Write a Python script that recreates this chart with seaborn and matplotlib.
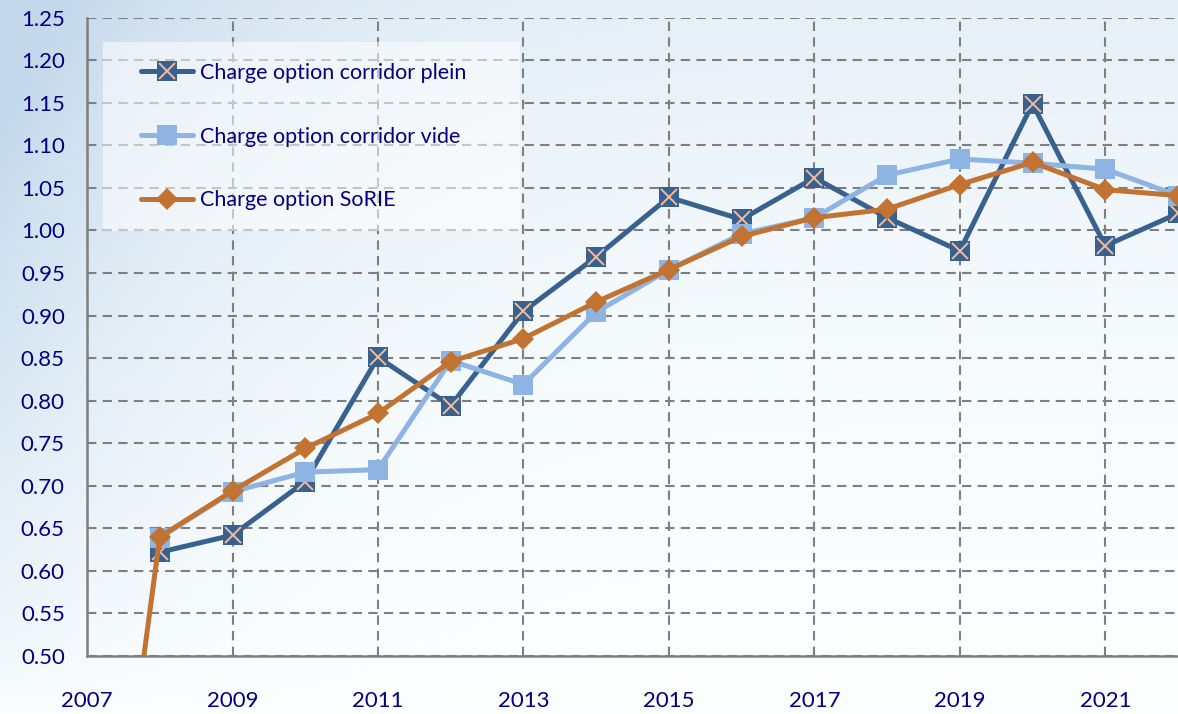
import numpy as np
import pandas as pd
import matplotlib.pyplot as plt
import seaborn as sns
from matplotlib.patches import Rectangle
from matplotlib.lines import Line2D
from matplotlib.legend_handler import HandlerTuple

# valeurs
annees = list(range(2007, 2023))
annees_corridor = list(range(2008, 2023))
corridor_plein = [0.622, 0.642, 0.705, 0.851, 0.794, 0.905, 0.969, 1.039,
                  1.013, 1.062, 1.015, 0.976, 1.149, 0.982, 1.020]
corridor_vide = [0.639, 0.693, 0.716, 0.719, 0.847, 0.819, 0.904, 0.954,
                 0.996, 1.015, 1.065, 1.084, 1.079, 1.072, 1.041]
sorie = [0.0, 0.640, 0.694, 0.744, 0.785, 0.846, 0.873, 0.916, 0.954,
         0.993, 1.015, 1.025, 1.054, 1.080, 1.048, 1.041]
labels = ['Charge option corridor plein', 'Charge option corridor vide',
          'Charge option SoRIE']

df_corr = pd.DataFrame({'annee': annees_corridor, 'plein': corridor_plein,
                        'vide': corridor_vide})
df_sorie = pd.DataFrame({'annee': annees, 'sorie': sorie})

sns.set_style('white')
plt.rcParams['font.family'] = ['Lato', 'DejaVu Sans']

c_plein = '#37618f'
c_vide = '#8db4e2'
c_sorie = '#c27231'
c_croix = '#f7b99a'
c_texte = '#000080'
c_grille = '#7f7f7f'

fig = plt.figure(figsize=(11.78, 7.14), dpi=100)

# fond dégradé bleuté
bg = fig.add_axes([0, 0, 1, 1], zorder=-10)
yy, xx = np.mgrid[0:1:200j, 0:1:300j]
t = 0.20 * (1 - yy) ** 1.8 + 0.40 * (1 - xx) ** 5 * (1 - yy) ** 0.6
t = np.clip(t, 0, 0.5)
bleu = np.array([0.55, 0.70, 0.85])
img = (1 - t[..., None]) * np.array([0.99, 1.0, 1.0]) + t[..., None] * bleu
bg.imshow(img, aspect='auto', extent=[0, 1, 0, 1], origin='upper')
bg.axis('off')

ax = fig.add_axes([0.0739, 0.0812, 0.9261, 0.894])
ax.set_facecolor('none')

sns.lineplot(data=df_corr, x='annee', y='plein', ax=ax, color=c_plein, lw=3.6,
             marker='s', markersize=14, markeredgewidth=0, zorder=2)
ax.plot(df_corr['annee'], df_corr['plein'], linestyle='none', marker='x',
        markersize=11, markeredgewidth=1.4, color=c_croix, zorder=2.1)
sns.lineplot(data=df_corr, x='annee', y='vide', ax=ax, color=c_vide, lw=3.6,
             marker='s', markersize=14, markeredgewidth=0, zorder=3)
sns.lineplot(data=df_sorie, x='annee', y='sorie', ax=ax, color=c_sorie, lw=3.6,
             marker='D', markersize=11, markeredgewidth=0, zorder=4)

ax.set_xlim(2007, 2022)
ax.set_ylim(0.50, 1.25)
ax.set_xticks(range(2007, 2022, 2))
ax.set_yticks(np.arange(0.50, 1.2501, 0.05))
ax.set_yticklabels([f'{v:.2f}' for v in np.arange(0.50, 1.2501, 0.05)])
ax.set_xlabel('')
ax.set_ylabel('')

ax.grid(True, linestyle=(0, (4.5, 3)), color=c_grille, lw=1.5)
ax.set_axisbelow(True)
for s in ['top', 'right']:
    ax.spines[s].set_visible(False)
for s in ['left', 'bottom']:
    ax.spines[s].set_color(c_grille)
    ax.spines[s].set_linewidth(1.8)

ax.tick_params(axis='x', direction='inout', length=14, width=1.5, color=c_grille,
               labelsize=16, labelcolor=c_texte, pad=18)
ax.tick_params(axis='y', direction='out', length=6, width=1.5, color=c_grille,
               labelsize=16, labelcolor=c_texte, pad=10)

# cadre clair de la légende
ax.add_patch(Rectangle((0.0147, 0.666), 0.382, 0.296, transform=ax.transAxes,
                       facecolor='white', alpha=0.55, edgecolor='none', zorder=5))

h_plein = Line2D([], [], color=c_plein, lw=3.6, marker='s', markersize=14,
                 markeredgewidth=0)
h_croix = Line2D([], [], linestyle='none', marker='x', markersize=11,
                 markeredgewidth=1.4, color=c_croix)
h_vide = Line2D([], [], color=c_vide, lw=3.6, marker='s', markersize=14,
                markeredgewidth=0)
h_sorie = Line2D([], [], color=c_sorie, lw=3.6, marker='D', markersize=11,
                 markeredgewidth=0)
leg = ax.legend([(h_plein, h_croix), h_vide, h_sorie], labels,
                handler_map={tuple: HandlerTuple(ndivide=1, pad=0)},
                loc='upper left', bbox_to_anchor=(0.049, 0.929), frameon=False,
                fontsize=15.5, labelspacing=2.03, handlelength=2.45,
                handletextpad=0.3, borderaxespad=0, borderpad=0)
leg.set_zorder(6)
for txt in leg.get_texts():
    txt.set_color(c_texte)

fig.savefig('out.png', dpi=100)
